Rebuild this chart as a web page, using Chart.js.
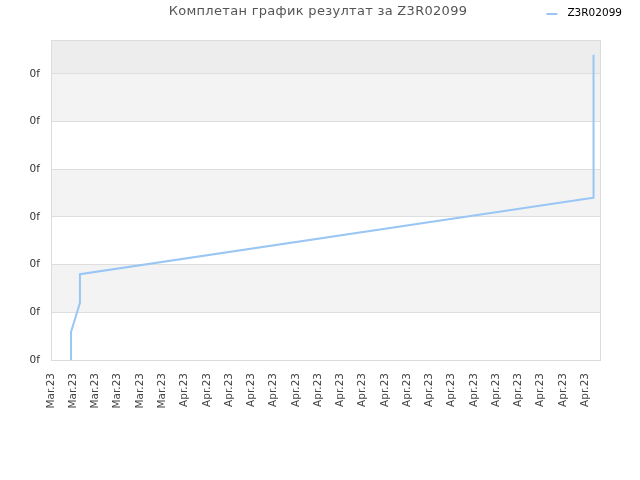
<!DOCTYPE html>
<html>
<head>
<meta charset="utf-8">
<script src="https://cdn.jsdelivr.net/npm/chart.js@4.4.1/dist/chart.umd.min.js"></script>
<style>
  html, body { margin: 0; padding: 0; background: #fff; }
  #wrap { width: 640px; height: 480px; }
</style>
</head>
<body>
<div id="wrap"><canvas id="chart" width="640" height="480"></canvas></div>
<script>
// values (x in tick steps, y in grid steps)
const chartTitle = 'Комплетан график резултат за Z3R02099';
const seriesName = 'Z3R02099';
const xLabels = [
    'Mar.23', 'Mar.23', 'Mar.23', 'Mar.23', 'Mar.23', 'Mar.23',
    'Apr.23', 'Apr.23', 'Apr.23', 'Apr.23', 'Apr.23', 'Apr.23', 'Apr.23',
    'Apr.23', 'Apr.23', 'Apr.23', 'Apr.23', 'Apr.23', 'Apr.23', 'Apr.23',
    'Apr.23', 'Apr.23', 'Apr.23', 'Apr.23', 'Apr.23'
];
const yTickLabel = '0f';
const pointX = [0.90, 0.90, 0.90, 1.30, 1.30, 24.36, 24.36, 24.36, 24.40, 24.40];
const pointY = [0.00, 0.21, 0.59, 1.20, 1.80, 3.40, 4.41, 5.41, 5.41, 6.40];
const xMax = 24.67;
const yMax = 6.71;

const points = pointX.map((x, i) => ({ x: x, y: pointY[i] }));

// striped plot background + frame
const plotBackground = {
    id: 'plotBackground',
    beforeDraw(chart) {
        const { ctx, chartArea: a, scales: { y } } = chart;
        ctx.save();
        ctx.fillStyle = '#ffffff';
        ctx.fillRect(a.left, a.top, a.right - a.left, a.bottom - a.top);
        for (let v = 0; v < yMax; v++) {
            const top = y.getPixelForValue(Math.min(v + 1, yMax));
            const bottom = y.getPixelForValue(v);
            if (v >= 6) ctx.fillStyle = '#ededed';
            else ctx.fillStyle = v % 2 ? '#f3f3f3' : '#ffffff';
            ctx.fillRect(a.left, top, a.right - a.left, bottom - top);
        }
        ctx.restore();
    },
    beforeDatasetsDraw(chart) {
        const { ctx, chartArea: a } = chart;
        ctx.save();
        ctx.strokeStyle = '#dcdcdc';
        ctx.lineWidth = 1;
        ctx.strokeRect(Math.round(a.left) + 0.5, Math.round(a.top) + 0.5,
            Math.round(a.right - a.left), Math.round(a.bottom - a.top));
        ctx.restore();
    }
};

// title and small legend share the top line
const header = {
    id: 'header',
    afterDraw(chart) {
        const ctx = chart.ctx;
        ctx.save();
        ctx.textBaseline = 'middle';

        ctx.font = '13px "DejaVu Sans"';
        ctx.letterSpacing = '0.3px';
        ctx.textAlign = 'center';
        ctx.fillStyle = '#555555';
        ctx.fillText(chartTitle, 318, 12);

        const right = chart.width - 18;
        ctx.letterSpacing = '0px';
        ctx.font = '10.5px "DejaVu Sans"';
        ctx.textAlign = 'right';
        ctx.fillStyle = '#000000';
        ctx.fillText(seriesName, right, 13);
        const left = right - ctx.measureText(seriesName).width;
        ctx.strokeStyle = '#99c6f5';
        ctx.lineWidth = 2;
        ctx.beginPath();
        ctx.moveTo(left - 21, 14);
        ctx.lineTo(left - 10, 14);
        ctx.stroke();
        ctx.restore();
    }
};

new Chart(document.getElementById('chart'), {
    type: 'line',
    data: {
        datasets: [{
            label: seriesName,
            data: points,
            borderColor: '#99c6f5',
            backgroundColor: '#99c6f5',
            borderWidth: 2,
            pointRadius: 0,
            tension: 0,
            fill: false
        }]
    },
    options: {
        responsive: false,
        animation: false,
        devicePixelRatio: 1,
        layout: { padding: { top: 40, right: 40, bottom: 0, left: 0 } },
        plugins: {
            legend: { display: false },
            tooltip: { enabled: false },
            title: { display: false }
        },
        scales: {
            x: {
                type: 'linear',
                min: 0,
                max: xMax,
                grid: { display: false, drawTicks: false },
                border: { display: true, color: '#dcdcdc' },
                ticks: {
                    stepSize: 1,
                    includeBounds: false,
                    autoSkip: false,
                    minRotation: 90,
                    maxRotation: 90,
                    padding: 13,
                    color: '#444444',
                    font: { family: 'DejaVu Sans', size: 10.5 },
                    callback: (v) => xLabels[v]
                },
                afterFit: (scale) => { scale.height = 120; }
            },
            y: {
                min: 0,
                max: yMax,
                grid: { color: '#dedede', drawTicks: false },
                border: { display: true, color: '#dcdcdc' },
                ticks: {
                    stepSize: 1,
                    includeBounds: false,
                    padding: 11,
                    color: '#333333',
                    font: { family: 'DejaVu Sans', size: 10.5 },
                    callback: () => yTickLabel
                },
                afterFit: (scale) => { scale.width = 51; }
            }
        }
    },
    plugins: [plotBackground, header]
});
</script>
</body>
</html>
